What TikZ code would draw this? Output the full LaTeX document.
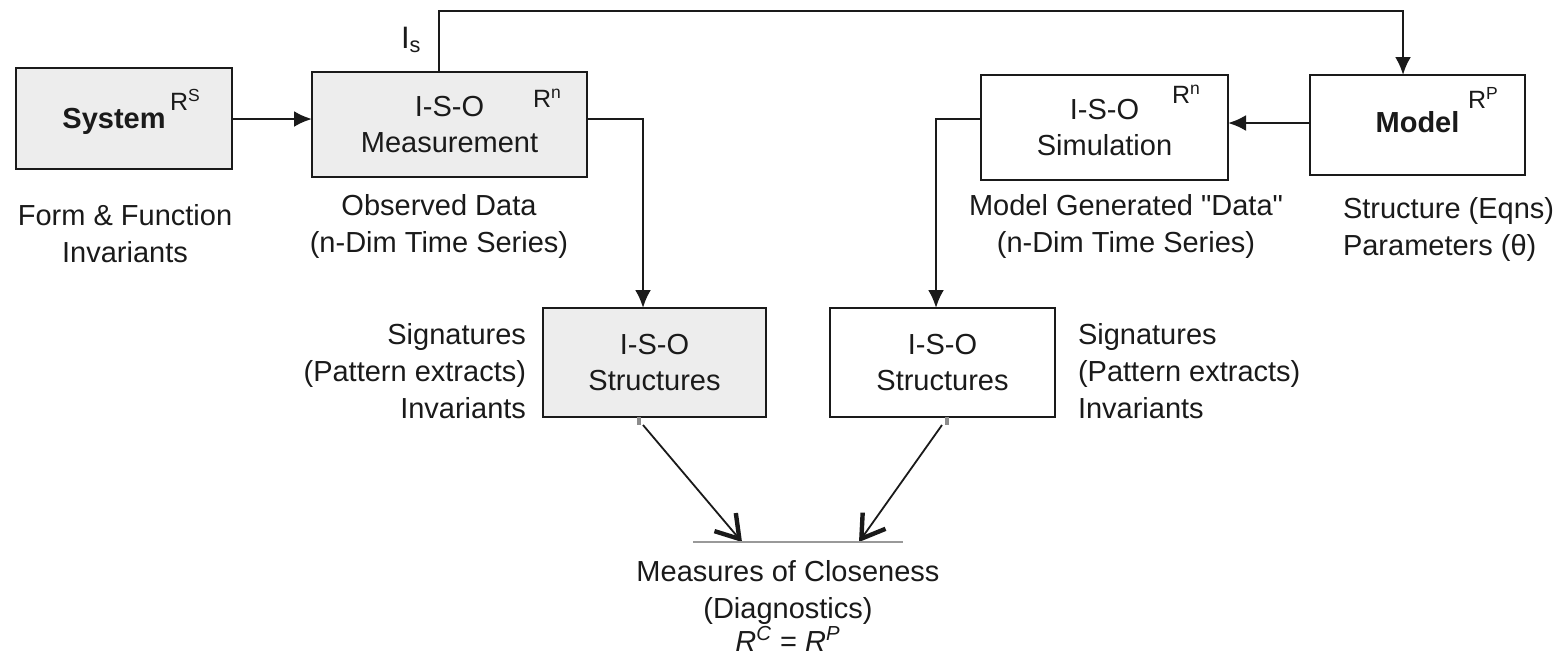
\documentclass[tikz,border=0pt]{standalone}
\usepackage{fontspec}
\setmainfont{Liberation Sans}[Ligatures=TeXOff]
\usetikzlibrary{arrows.meta,calc}
\definecolor{boxgray}{HTML}{EDEDED}
\definecolor{ink}{HTML}{1A1A1A}
\begin{document}
\begin{tikzpicture}[x=0.5pt,y=-0.5pt,
  every node/.style={inner sep=0pt, outer sep=0pt, text=ink},
  blk/.style={draw=ink, line width=1.4pt, align=center,
    font=\fontsize{14.5}{18}\selectfont},
  gblk/.style={blk, fill=boxgray},
  txt/.style={align=center, font=\fontsize{14.5}{18.5}\selectfont},
  sup/.style={anchor=base west, font=\fontsize{12.5}{14}\selectfont},
  arr/.style={draw=ink, line width=1.3pt, -{Latex[length=9pt,width=8pt]}},
  barb/.style={draw=ink, line width=0.9pt, -{Straight Barb[length=11pt,width=14pt,line width=2.2pt]}},
  stub/.style={draw=black!45, line width=1.6pt}]
\useasboundingbox (0,0) rectangle (1563,661);

% blocks
\node[gblk, minimum width=108pt, minimum height=50.5pt] (sys) at (124,118.5) {};
\node[font=\fontsize{14.5}{18}\selectfont\bfseries] (systxt) at (114,121) {System};
\node[sup] (rs) at (170,110) {R\textsuperscript{S}};

\node[gblk, minimum width=137.5pt, minimum height=52.5pt] (meas) at (449.5,124.5) {I-S-O\\Measurement};
\node[sup] (rnm) at (533,107) {R\textsuperscript{n}};

\node[blk, fill=white, minimum width=123.5pt, minimum height=52.5pt] (sim) at (1104.5,127.5) {I-S-O\\Simulation};
\node[sup] (rns) at (1172,103) {R\textsuperscript{n}};

\node[blk, fill=white, minimum width=107.5pt, minimum height=50pt, font=\fontsize{14.5}{18}\selectfont\bfseries] (model) at (1417.5,125) {\raisebox{3pt}{Model}};
\node[sup] (rp) at (1468,108) {R\textsuperscript{P}};

\node[gblk, minimum width=111.5pt, minimum height=54.5pt] (strL) at (654.5,362.5) {I-S-O\\Structures};
\node[blk, fill=white, minimum width=112.5pt, minimum height=54.5pt] (strR) at (942.5,362.5) {I-S-O\\Structures};

% labels
\node[txt] (ff) at (125,234) {Form \& Function\\Invariants};
\node[txt] (obs) at (439,226) {Observed Data\\(n-Dim Time Series)};
\node[txt] (mgd) at (1126,226) {Model Generated "Data"\\(n-Dim Time Series)};
\node[txt, align=left, anchor=west] (stp) at (1343,229) {Structure (Eqns)\\Parameters (θ)};
\node[txt, align=right, anchor=east] (sigL) at (526,371) {Signatures\\(Pattern extracts)\\Invariants};
\node[txt, align=left, anchor=west] (sigR) at (1078,371) {Signatures\\(Pattern extracts)\\Invariants};
\node[sup, font=\fontsize{15.5}{18}\selectfont] (is) at (401,48) {I\textsubscript{s}};
\node[txt, anchor=north] (close) at (788,560) {Measures of Closeness\\(Diagnostics)\\[-2pt]\textit{R}\textsuperscript{\textit{C}} = \textit{R}\textsuperscript{\textit{P}}};

% helper coordinates
\coordinate (istop) at (439,11);
\coordinate (mtop) at (1403,11);
\coordinate (mx) at (643,119);
\coordinate (sx) at (936,119);
\coordinate (tipL) at (742,542);
\coordinate (tipR) at (859,542);
\coordinate (srcL) at (643,425);
\coordinate (srcR) at (942,425);
\coordinate (cl) at (693,542);
\coordinate (cr) at (903,542);

% connectors
\draw[arr] (sys.east |- 0,119) -- (meas.west |- 0,119);
\draw[arr] (meas.north -| istop) -- (istop) -- (mtop) -- (model.north -| mtop);
\draw[arr] (model.west |- 0,123) -- (sim.east |- 0,123);
\draw[arr] (meas.east |- mx) -- (mx) -- (strL.north -| mx);
\draw[arr] (sim.west |- sx) -- (sx) -- (strR.north -| sx);

\draw[stub] (strL.south -| 639,0) -- ++(0,8);
\draw[stub] (strR.south -| 947,0) -- ++(0,8);
\draw[barb] (srcL) -- (tipL);
\draw[barb] (srcR) -- (tipR);
\draw[draw=black!40, line width=0.6pt] (cl) -- (cr);
\end{tikzpicture}
\end{document}
